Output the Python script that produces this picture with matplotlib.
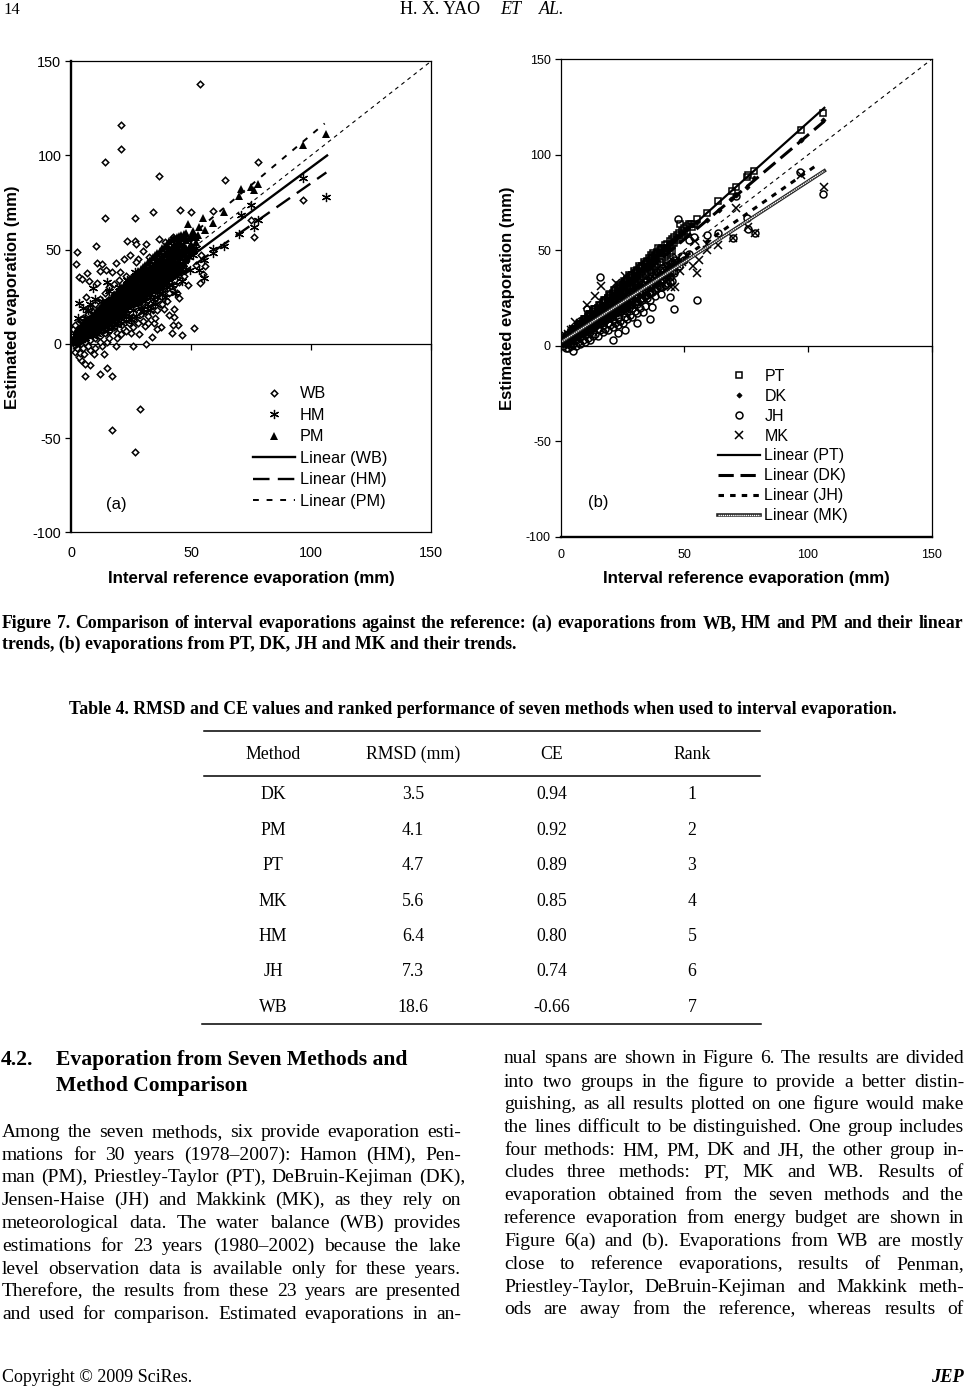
import matplotlib
matplotlib.use('Agg')
import matplotlib.pyplot as plt
from matplotlib.legend_handler import HandlerTuple

W, H = 967, 1386

SANS = 'Liberation Sans'
SERIF = 'Liberation Serif'

TICKS_X = [0, 50, 100, 150]
TICKS_Y = [-100, -50, 0, 50, 100, 150]

# panel (a)
WB_PTS = [
    (53.6, 138), (21, 116), (21, 103.7), (14, 96.4), (36.8, 89.3), (78, 96.4), (64, 86.9), (96.6, 76.2),
    (76.2, 56.6), (75.2, 66), (14, 66.7), (26.5, 66.7), (34, 70.2), (45.4, 71), (50, 70.2), (59.2, 70.6),
    (10.3, 51.8), (2.6, 48.8), (2.2, 42.3), (23.3, 54.8), (26.5, 54.7), (27, 53), (31.2, 53.2), (29.8, 49.5),
    (36.5, 55.9), (39.3, 54.1), (42.6, 56.6), (6.5, 37.5), (3.2, 35.7), (4.4, 34.7), (7.4, 33.4), (10.7, 42.8),
    (13, 42.3), (12, 38.7), (14.4, 39.3), (18.6, 42.8), (21.9, 45.3), (24.7, 47), (28, 45.3), (27, 43.3),
    (32.6, 46), (17.2, 38.4), (20.5, 38), (11, 32.5), (6.4, 25), (26, -1), (31.2, 0), (46.2, 4.8), (51.3, 8.3),
    (42, 6), (44.7, 10), (42.3, 10), (41, 15.5), (42.9, 14.5), (42.9, 18.6), (38.7, 18.6), (44.8, 24.4),
    (44.1, 27), (48.6, 31), (53.7, 32.2), (55, 37), (56, 41.6), (37.5, 8.8), (35.7, 7.8), (34.5, 11.3),
    (33.6, 3.5), (28.4, 5.3), (30.7, 9.5), (18.6, -1), (28.9, -34.5), (17.2, -45.8), (26.5, -57.6), (6, -17.1),
    (17.2, -17.1), (12, -16), (14.8, -13), (7.9, -11.3), (6, -10.6), (4, -8.8), (3.2, -6.7), (1.8, -4.2),
    (3.7, -4.6), (5.5, -5.5), (9.7, -5.5), (13.7, -5.3), (1, 1), (1, 4), (1, 7), (2, -1), (2, 3), (2, 9),
    (3, 1), (3, 6), (3, 11), (4, 0), (4, 4), (4, 12), (5, 2), (5, 8), (5, 14), (6, 1), (6, 6), (6, 11), (7, 3),
    (7, 16), (8, 2), (8, 8), (8, 13), (8, 19), (9, 5), (9, 17), (10, 3), (10, 10), (10, 21), (11, 6), (11, 15),
    (12, 4), (12, 19), (12, 24), (13, 8), (13, 12), (14, 6), (14, 18), (14, 27), (15, 10), (15, 23), (16, 7),
    (16, 14), (16, 30), (17, 11), (17, 20), (18, 9), (18, 26), (18, 32), (19, 14), (19, 6), (20, 11), (20, 20),
    (20, 34), (21, 15), (21, 29), (22, 8), (22, 25), (23, 13), (23, 36), (24, 18), (24, 11), (24, 31), (25, 6),
    (25, 22), (26, 14), (26, 35), (27, 19), (27, 12), (28, 27), (28, 38), (29, 16), (30, 22), (30, 12), (30, 36),
    (31, 18), (32, 27), (32, 15), (33, 21), (33, 40), (34, 18), (34, 30), (35, 24), (35, 14), (36, 28), (37, 21),
    (37, 44), (38, 25), (39, 30), (40, 23), (40, 47), (41, 33), (42, 28), (43, 37), (44, 50), (46, 41), (47, 36),
    (48, 45), (50, 48), (52, 42), (54, 47), (0.5, 2), (0.5, 5), (0.7, 8), (1.5, 10), (2.5, -2), (5, -2), (8, -3),
    (7, -1), (10, -2), (13, -1), (15, 1), (16, 3), (12, 1), (19, 3), (21, 5), (23, 7), (26, 9), (28, 11), (32, 11),
    (36, 18), (38, 21), (41, 27), (43, 31), (45, 33), (47, 39),
]
HM_PTS = [
    (106.4, 78), (96.6, 88.3), (76.2, 62.3), (78, 66), (70, 58.4), (71, 68.5), (75.2, 73.8), (63.8, 52),
    (59.2, 48), (59.2, 50.2), (55.4, 34.8), (55.4, 44.6), (53.3, 39.3), (49.5, 39.3), (48.1, 40), (46.3, 33.6),
    (43.3, 26.9), (9, 29.5), (14.8, 33), (23.2, 34), (26.6, 38.4), (3.2, 21.6), (5, 19), (3, 13.6),
    (1, 2), (2, 1), (2, 4), (3, 3), (4, 2), (4, 6), (5, 4), (6, 3), (6, 8), (7, 5), (7, 10), (8, 6), (9, 4),
    (9, 9), (10, 7), (10, 12), (11, 9), (11, 5), (12, 8), (12, 13), (13, 10), (13, 16), (14, 9), (14, 13), (15, 7),
    (15, 12), (15, 17), (16, 11), (16, 20), (17, 9), (17, 14), (18, 12), (18, 18), (19, 10), (19, 16), (19, 23),
    (20, 14), (20, 18), (21, 11), (21, 19), (22, 15), (22, 22), (23, 12), (23, 18), (24, 15), (24, 21), (25, 13),
    (25, 26), (26, 18), (26, 23), (27, 15), (27, 22), (28, 21), (28, 30), (29, 19), (29, 25), (30, 17), (30, 28),
    (31, 23), (31, 33), (32, 20), (32, 30), (33, 25), (33, 18), (34, 24), (34, 35), (35, 28), (35, 21), (36, 32),
    (36, 25), (37, 29), (37, 37), (38, 27), (38, 41), (39, 33), (39, 25), (40, 37), (40, 30), (41, 43), (41, 35),
    (42, 31), (42, 46), (43, 40), (44, 36), (44, 48), (45, 42), (46, 38), (46, 50), (47, 44), (48, 49), (49, 46),
    (50, 50), (51, 47), (52, 51), (5, 11), (6, 14), (7, 18), (8, 21), (10, 24), (13, 23), (16, 28), (20, 30), (24, 33),
]
PM_PTS = [
    (1, 2), (1.5, 3.5), (2, 2.5), (2.5, 4.5), (3, 3), (3.5, 5.5), (4, 4), (4.5, 6.5), (5, 5), (5.5, 7.5), (6, 6),
    (6.5, 9), (7, 7.5), (7.5, 10), (8, 8.5), (8.5, 11), (9, 9.5), (9.5, 12.5), (10, 10.5), (10.5, 13.5), (11, 12),
    (11.5, 15), (12, 13), (12.5, 16), (13, 14), (13.5, 17), (14, 15.5), (14.5, 18.5), (15, 16), (15.5, 19.5),
    (16, 17.5), (16.5, 20.5), (17, 18.5), (17.5, 22), (18, 19.5), (18.5, 23), (19, 20.5), (19.5, 24), (20, 22),
    (20.5, 25), (21, 23), (21.5, 26.5), (22, 24), (22.5, 27.5), (23, 25), (23.5, 29), (24, 26.5), (24.5, 30),
    (25, 27.5), (25.5, 31), (26, 28.5), (26.5, 32), (27, 29.5), (27.5, 33), (28, 31), (28.5, 34.5), (29, 32),
    (29.5, 35.5), (30, 33), (30.5, 36.5), (31, 34), (31.5, 38), (32, 35.5), (32.5, 39), (33, 36), (33.5, 40),
    (34, 37.5), (34.5, 41), (35, 38.5), (35.5, 42.5), (36, 40), (36.5, 44), (37, 41), (37.5, 45), (38, 42),
    (38.5, 46), (39, 43.5), (39.5, 47.5), (40, 44.5), (40.5, 48.5), (41, 45.5), (41.5, 49), (42, 47), (42.5, 50),
    (43, 48), (43.5, 51.5), (44, 49), (45, 50.5), (46, 53), (47, 52.5), (48, 55), (49, 56), (50, 57), (51, 58),
    (52, 56.5), (48.6, 63.7), (53.3, 62.3), (55, 66.7), (56, 60.5), (59.2, 64), (63.8, 70), (70, 78.5), (71, 82.4),
    (75.2, 83.5), (76.2, 81.5), (78, 85), (96.6, 105.4), (106.4, 111.6),
    # the solid part of the cloud, low and high edge
    (2, 1.2), (2, 7), (3, 2), (3, 8), (4, 3), (4, 9.5), (5, 3.5), (5, 10.5), (6, 4.5), (6, 12), (7, 5.5), (7, 13),
    (8, 6.5), (8, 14), (9, 7), (9, 15.5), (10, 8), (10, 16.5), (11, 9), (11, 18), (12, 9.5), (12, 19), (13, 10.5),
    (13, 20.5), (14, 11.5), (14, 21.5), (15, 12.5), (15, 23), (16, 13), (16, 24), (17, 14), (17, 25), (18, 15),
    (18, 26.5), (19, 15.5), (19, 27.5), (20, 16.5), (20, 29), (21, 17.5), (21, 30), (22, 18), (22, 31), (23, 19),
    (23, 32.5), (24, 20), (24, 33.5), (25, 21), (25, 35), (26, 21.5), (26, 36), (27, 22.5), (27, 37), (28, 23.5),
    (28, 38.5), (29, 24), (29, 40), (30, 25), (30, 41), (31, 26), (31, 42), (32, 27), (32, 43.5), (33, 27.5),
    (33, 44.5), (34, 28.5), (34, 46), (35, 29.5), (35, 47), (36, 30), (36, 48.5), (37, 31), (37, 49.5), (38, 32),
    (38, 51), (39, 33), (39, 52), (40, 33.5), (40, 53), (41, 35), (41, 54.5), (42, 36), (42, 55.5), (43, 37), (43, 56),
    (44, 38), (44, 57), (45, 40), (45, 57.5), (46, 41), (46, 58), (47, 43), (47, 58.5), (48, 45), (48, 59), (49, 47),
    (50, 49), (51, 51), (51, 60), (52, 54), (53, 58),
    # and its middle
    (5, 5), (6, 6.5), (7, 7), (8, 7.5), (9, 8.5), (10, 9.5), (11, 10.5), (12, 11), (13, 12.5), (14, 13.5), (15, 14.5),
    (16, 15), (17, 16.5), (18, 17.5), (19, 18.5), (20, 19), (21, 20), (22, 21.5), (23, 22), (24, 23), (25, 24),
    (26, 25.5), (27, 26), (28, 27), (29, 28), (30, 29.5), (31, 30), (32, 31), (33, 32), (34, 33), (35, 34), (36, 35),
    (37, 36), (38, 37), (39, 37.5), (40, 39), (41, 40), (42, 41), (43, 42), (44, 43), (45, 44), (46, 46), (47, 47.5),
    (48, 50), (49, 51), (50, 53),
    (3, 3), (4, 3.5), (5, 4.5), (6, 5.5), (7, 6.5), (8, 7.5), (9, 8), (10, 9), (11, 10), (12, 11), (13, 12), (14, 12.5),
    (15, 13.5), (16, 14.5), (17, 15.5), (18, 16.5), (19, 17.5), (20, 18), (21, 19), (22, 20), (23, 21), (24, 22), (25, 23),
    (26, 23.5), (27, 24.5), (28, 25.5), (29, 26.5), (30, 27.5), (31, 28), (32, 29), (33, 30), (34, 31), (35, 32), (36, 33),
    (37, 33.5), (38, 34.5), (39, 35.5), (40, 36.5), (41, 37.5), (42, 38.5), (43, 39), (44, 40), (45, 41), (46, 42), (47, 43),
    (3, 4), (4, 5), (5, 6), (6, 7), (7, 8.5), (8, 9), (9, 10), (10, 11.5), (11, 12.5), (12, 13.5), (13, 14.5), (14, 15.5),
    (15, 16.5), (16, 17.5), (17, 18.5), (18, 19.5), (19, 20.5), (20, 21.5), (21, 22.5), (22, 23.5), (23, 25), (24, 26),
    (25, 27), (26, 28), (27, 29), (28, 30), (29, 31), (30, 32), (31, 33), (32, 34), (33, 35), (34, 36), (35, 37), (36, 38),
    (37, 39), (38, 40), (39, 41), (40, 42), (41, 43), (42, 44), (43, 45), (44, 46.5), (45, 47.5), (46, 48.5), (47, 49.5), (48, 51),
    (3, 6.5), (4, 7.5), (5, 9), (6, 10), (7, 11), (8, 12), (9, 13.5), (10, 14.5), (11, 15.5), (12, 17), (13, 18), (14, 19),
    (15, 20.5), (16, 21.5), (17, 22.5), (18, 24), (19, 25), (20, 26), (21, 27), (22, 28.5), (23, 29.5), (24, 30.5), (25, 32),
    (26, 33), (27, 34), (28, 35), (29, 36.5), (30, 37.5), (31, 38.5), (32, 40), (33, 41), (34, 42), (35, 43), (36, 44.5),
    (37, 45.5), (38, 46.5), (39, 48), (40, 49), (41, 50), (42, 51.5), (43, 52.5), (44, 53.5), (45, 55), (46, 56), (47, 57),
]

# panel (b)
PT_PTS = [
    (0.5, 1.5), (1, 1), (1, 3), (2, 2), (2, 4), (3, 3), (3, 5.5), (4, 4.5), (4, 6.5), (5, 5.5), (5, 8), (6, 7), (6, 9),
    (7, 8), (7, 10.5), (8, 9), (8, 11.5), (9, 10.5), (9, 13), (10, 11.5), (10, 14), (11, 13), (11, 15.5), (12, 14),
    (12, 16.5), (13, 15), (13, 18), (14, 16.5), (14, 19), (15, 17.5), (15, 20), (16, 19), (16, 21.5), (17, 20), (17, 23),
    (18, 21), (18, 24), (19, 22.5), (19, 25), (20, 23.5), (20, 26.5), (21, 24.5), (21, 27.5), (22, 26), (22, 29), (23, 27),
    (23, 30), (24, 28), (24, 31.5), (25, 29.5), (25, 32.5), (26, 30.5), (26, 33.5), (27, 31.5), (27, 35), (28, 33), (28, 36),
    (29, 34), (29, 37), (30, 35), (30, 38), (31, 36.5), (31, 39.5), (32, 37.5), (32, 40.5), (33, 38.5), (33, 41.5), (34, 40),
    (34, 43), (35, 41), (35, 44.5), (36, 42), (36.4, 47.6), (37, 43.5), (37, 46), (38, 44.5), (38, 47), (39, 46), (39, 48.5),
    (40.4, 50.5), (41, 48.5), (42, 49.5), (43, 51), (44, 52), (45, 53), (46, 54), (47, 55.5), (48.2, 63.6), (48, 56.5),
    (49, 58), (50, 59), (51, 60), (52.8, 63.6), (53, 62), (54, 64), (55.3, 66.2), (59.2, 69.7), (63.7, 75.6), (69.4, 81),
    (71, 83), (75.5, 88.2), (75.9, 89.4), (78.3, 91.6), (97, 113.2), (106.2, 122),
    (5.5, 9), (7.5, 11.5), (9.5, 14), (11.5, 16.5), (13.5, 19), (15.5, 21.5), (17.5, 24), (19.5, 27), (21.5, 29),
    (23.5, 32), (25.5, 34), (27.5, 37), (29.5, 39), (31.5, 42), (33.5, 44), (35.5, 46), (37.5, 48.5), (39.5, 51),
    (2, 3), (3, 4), (4, 5.5), (5, 6.5), (6, 7.5), (7, 8.5), (8, 9.5), (9, 11), (10, 12), (11, 13), (12, 14), (13, 15), (14, 16),
    (15, 17), (16, 18.5), (17, 19.5), (18, 20.5), (19, 21.5), (20, 22.5), (21, 23.5), (22, 25), (23, 26), (24, 27), (25, 28),
    (26, 29), (27, 30), (28, 31), (29, 32.5), (30, 33.5), (31, 34.5), (32, 35.5), (33, 36.5), (34, 37.5), (35, 39), (36, 40),
    (37, 41), (38, 42), (39, 43), (40, 44), (41, 45.5), (42, 46.5), (43, 47.5), (44, 48.5), (45, 49.5),
    (2, 4.5), (3, 5.5), (4, 7), (5, 8), (6, 9), (7, 10.5), (8, 11.5), (9, 13), (10, 14), (11, 15), (12, 16.5), (13, 17.5), (14, 19),
    (15, 20), (16, 21), (17, 22.5), (18, 23.5), (19, 25), (20, 26), (21, 27), (22, 28.5), (23, 29.5), (24, 31), (25, 32), (26, 33),
    (27, 34.5), (28, 35.5), (29, 37), (30, 38), (31, 39), (32, 40.5), (33, 41.5), (34, 43), (35, 44), (36, 45), (37, 46.5),
    (38, 47.5), (39, 49), (40, 50), (41, 51), (42, 52.5), (43, 53.5), (44, 55), (45, 56), (46, 57), (47, 58), (48, 59), (49, 60),
    (50, 61.5), (51, 62.5), (52, 63.5),
]
DK_PTS = [
    (1, 2), (2, 3), (3, 4.5), (4, 5.5), (5, 6.5), (6, 8), (7, 9), (8, 10), (9, 11.5), (10, 12.5), (11, 14), (12, 15), (13, 16),
    (14, 17.5), (15, 18.5), (16, 20), (17, 21), (18, 22.5), (19, 23.5), (20, 25), (21, 26), (22, 27), (23, 28.5), (24, 29.5),
    (25, 31), (26, 32), (27, 33), (28, 34.5), (29, 35.5), (30, 36.5), (31, 38), (32, 39), (33, 40), (34, 41.5), (35, 42.5),
    (36, 44), (37, 45), (38, 46), (39, 47.5), (40, 48.5), (41, 50), (42, 51), (43, 52.5), (44, 53.5), (45, 55), (47, 57),
    (49, 59), (51, 61), (53, 63), (55, 65), (59, 66), (64, 71), (69, 77), (71, 79), (75.5, 83), (78, 88), (97, 108), (106.2, 118),
]
JH_PTS = [
    (106.2, 79.4), (96.8, 91), (75.3, 66.9), (70.8, 78.2), (47.3, 66.4), (59.2, 58.2), (63.6, 58.9), (69.7, 56.3), (75.9, 61),
    (78.6, 59.2), (55, 24.2), (46, 19.5), (44.2, 25.4), (36, 13.8), (16, 35.9), (10.6, 19.2), (21, 3.1), (31, 11.8), (33.3, 17.9),
    (36.8, 20.2), (40.4, 27.2), (26, 8), (23, 6.6), (5.1, -2.6), (53.9, 57), (51.9, 55.4),
    (1, 0), (1, 2), (2, -1), (2, 2), (3, -1), (3, 1), (3, 4), (4, 0), (4, 3), (5, 1), (5, 4), (6, 0), (6, 3), (7, 2), (7, 6), (8, 1),
    (8, 5), (9, 3), (9, 7), (10, 2), (10, 6), (11, 4), (11, 9), (12, 3), (12, 7), (13, 5), (13, 10), (14, 6), (14, 12), (15, 5),
    (15, 9), (16, 8), (16, 13), (17, 7), (17, 11), (18, 9), (18, 15), (19, 8), (19, 12), (20, 11), (20, 16), (21, 10), (21, 14),
    (22, 12), (22, 18), (23, 11), (23, 15), (24, 13), (24, 19), (25, 12), (25, 17), (26, 15), (26, 21), (27, 14), (27, 18),
    (28, 16), (28, 23), (29, 15), (29, 20), (30, 18), (30, 25), (31, 17), (31, 22), (32, 20), (32, 27), (33, 24), (34, 21), (34, 29),
    (35, 25), (36, 24), (36, 31), (37, 28), (38, 26), (38, 33), (39, 30), (40, 31), (40, 37), (41, 34), (42, 32), (43, 38),
    (44, 36), (45, 41), (46, 38), (47, 44), (48, 42), (49, 47), (50, 45), (52, 48),
    # dense band along the trend
    (2, 1.5), (3, 2), (4, 3), (5, 4), (6, 4.5), (7, 5.5), (8, 6), (9, 7), (10, 7.5), (11, 8.5), (12, 9), (13, 10), (14, 10.5),
    (15, 11.5), (16, 12), (17, 13), (18, 13.5), (19, 14.5), (20, 15), (21, 16), (22, 17), (23, 17.5), (24, 18), (25, 19), (26, 20),
    (27, 20.5), (28, 21.5), (29, 22), (30, 23), (31, 23.5), (32, 24.5), (33, 25), (34, 26), (35, 26.5), (36, 27.5), (37, 28),
    (38, 29), (39, 30), (40, 30.5), (41, 31), (42, 32), (43, 33), (44, 33.5), (45, 34),
    (2, 2), (3, 2.5), (4, 3.5), (5, 4.5), (6, 5), (7, 6), (8, 7), (9, 8), (10, 8.5), (11, 9.5), (12, 10.5), (13, 11), (14, 12),
    (15, 13), (16, 14), (17, 14.5), (18, 15.5), (19, 16.5), (20, 17), (21, 18), (22, 19), (23, 20), (24, 20.5), (25, 21.5),
    (26, 22.5), (27, 23), (28, 24), (29, 25), (30, 26), (31, 26.5), (32, 27.5), (33, 28.5), (34, 29), (35, 30), (36, 31), (37, 32),
    (38, 32.5), (39, 33.5), (40, 34.5), (41, 35), (42, 36), (43, 37), (44, 38), (45, 38.5),
    (2, 2.5), (3, 3.5), (4, 4.5), (5, 5.5), (6, 6.5), (7, 7.5), (8, 8.5), (9, 9.5), (10, 10), (11, 11), (12, 12), (13, 13), (14, 14),
    (15, 15), (16, 16), (17, 17), (18, 18), (19, 19), (20, 20), (21, 21), (22, 22), (23, 23), (24, 24), (25, 25), (26, 25.5),
    (27, 26.5), (28, 27.5), (29, 28.5), (30, 29.5), (31, 30.5), (32, 31.5), (33, 32.5), (34, 33.5), (35, 34.5), (36, 35.5),
    (37, 36.5), (38, 37.5), (39, 38.5), (40, 39.5), (41, 40.5), (42, 41.5), (43, 42.5), (44, 43), (45, 44), (46, 45),
]
MK_PTS = [
    (106.6, 83.1), (97, 89.5), (71, 72.3), (69.7, 56.3), (75.6, 62), (78.6, 59.2), (63.8, 52.6), (59.3, 53.3), (59.3, 50), (55.9, 45),
    (55.2, 38), (53.4, 41.8), (54.3, 55), (46.4, 31), (44.5, 31), (16.3, 31.4), (13.9, 25.8), (10.8, 21.4), (5.9, 12.2), (22.4, 33),
    (26, 36.6), (48.2, 38.9), (50.9, 47.6),
    (1, 1), (1, 4), (2, 2), (2, 5), (3, 3), (3, 6), (4, 4), (4, 8), (5, 5), (5, 9), (6, 4), (6, 7), (7, 6), (7, 10), (8, 7), (8, 12),
    (9, 6), (9, 10), (10, 9), (10, 13), (11, 8), (11, 12), (12, 10), (12, 15), (13, 9), (13, 13), (14, 11), (14, 17), (15, 11),
    (15, 15), (16, 13), (16, 19), (17, 12), (17, 16), (18, 14), (18, 20), (19, 14), (19, 18), (20, 16), (20, 21), (21, 15),
    (21, 19), (22, 17), (22, 23), (23, 17), (23, 21), (24, 19), (24, 25), (25, 19), (25, 23), (26, 20), (26, 26), (27, 20),
    (27, 24), (28, 22), (28, 28), (29, 22), (29, 26), (30, 24), (30, 30), (31, 24), (31, 28), (32, 26), (32, 32), (33, 26),
    (33, 30), (34, 27), (34, 33), (35, 28), (35, 32), (36, 29), (36, 35), (37, 30), (37, 34), (38, 32), (38, 38), (39, 33),
    (40, 34), (40, 39), (41, 35), (42, 37), (43, 38), (44, 39), (45, 42), (46, 41), (47, 43), (49, 44),
    # dense band along the trend
    (2.5, 4), (4, 6), (5.5, 7.5), (7, 8), (8.5, 9.5), (10, 11), (11.5, 12.5), (13, 15), (14.5, 15), (16, 16), (17.5, 18),
    (19, 20), (20.5, 20), (22, 21), (23.5, 23), (25, 25), (26.5, 24), (28, 25), (29.5, 28), (31, 30), (32.5, 29), (34, 30),
    (35.5, 34), (37, 36), (38.5, 35), (40, 37), (41.5, 38), (43, 41), (44.5, 41), (46, 44), (47.5, 46),
]

# trend lines, ends of each one
TREND_A = {
    'WB': ([1, 106.7], [0.1, 100]),
    'HM': ([1, 106.4], [-3, 91]),
    'PM': ([1, 105.7], [5.2, 117]),
}
TREND_B = {
    'PT': ([0.5, 106.6], [1.5, 124.6]),
    'DK': ([0.5, 106.6], [1.6, 117.6]),
    'JH': ([0.5, 104], [1.8, 95]),
    'MK': ([0.5, 106.6], [2.2, 91.6]),
}

TABLE_HEAD = ['Method', 'RMSD (mm)', 'CE', 'Rank']
TABLE_METHOD = ['DK', 'PM', 'PT', 'MK', 'HM', 'JH', 'WB']
TABLE_RMSD = ['3.5', '4.1', '4.7', '5.6', '6.4', '7.3', '18.6']
TABLE_CE = ['0.94', '0.92', '0.89', '0.85', '0.80', '0.74', '-0.66']
TABLE_RANK = ['1', '2', '3', '4', '5', '6', '7']

LEFT_COL = [
    'Among the seven methods, six provide evaporation esti-',
    'mations for 30 years (1978–2007): Hamon (HM), Pen-',
    'man (PM), Priestley-Taylor (PT), DeBruin-Kejiman (DK),',
    'Jensen-Haise (JH) and Makkink (MK), as they rely on',
    'meteorological data. The water balance (WB) provides',
    'estimations for 23 years (1980–2002) because the lake',
    'level observation data is available only for these years.',
    'Therefore, the results from these 23 years are presented',
    'and used for comparison. Estimated evaporations in an-',
]
RIGHT_COL = [
    'nual spans are shown in Figure 6. The results are divided',
    'into two groups in the figure to provide a better distin-',
    'guishing, as all results plotted on one figure would make',
    'the lines difficult to be distinguished. One group includes',
    'four methods: HM, PM, DK and JH, the other group in-',
    'cludes three methods: PT, MK and WB. Results of',
    'evaporation obtained from the seven methods and the',
    'reference evaporation from energy budget are shown in',
    'Figure 6(a) and (b). Evaporations from WB are mostly',
    'close to reference evaporations, results of Penman,',
    'Priestley-Taylor, DeBruin-Kejiman and Makkink meth-',
    'ods are away from the reference, whereas results of',
]
LEFT_BASE = [1137, 1160, 1182, 1205, 1228, 1251, 1274, 1296, 1319]
RIGHT_BASE = [1063, 1087, 1109, 1132, 1155, 1177, 1200, 1223, 1246, 1269, 1292, 1314]

plt.rcParams['font.family'] = SANS
plt.rcParams['axes.unicode_minus'] = False

fig = plt.figure(figsize=(W / 100, H / 100), dpi=100, facecolor='white')


def px_axes(left, top, right, bottom):
    return fig.add_axes([left / W, 1 - bottom / H, (right - left) / W, (bottom - top) / H])


def ptext(x, y, s, **kw):
    kw.setdefault('family', SERIF)
    kw.setdefault('va', 'baseline')
    return fig.text(x / W, 1 - y / H, s, **kw)


def justified(line, left, right, y, size, **kw):
    # spread the words over the column, the way the page was set
    renderer = fig.canvas.get_renderer()
    words = line.split(' ')
    sizes = []
    for w in words:
        t = ptext(0, 0, w, fontsize=size, **kw)
        sizes.append(t.get_window_extent(renderer).width)
        t.remove()
    gap = (right - left - sum(sizes)) / max(len(words) - 1, 1)
    x = left
    for w, wd in zip(words, sizes):
        ptext(x, y, w, fontsize=size, **kw)
        x += wd + gap


def scatter(ax, pts, label, **kw):
    ax.plot([p[0] for p in pts], [p[1] for p in pts], ls='none', color='black', label=label, **kw)


def frame(ax, thick, tick_size, pad):
    ax.set_xlim(0, 150)
    ax.set_ylim(-100, 150)
    for name, sp in ax.spines.items():
        sp.set_linewidth(1.7 if name == thick else 0.9)
    ax.set_xticks(TICKS_X)
    ax.set_yticks(TICKS_Y)
    ax.tick_params(axis='x', length=0, labelsize=tick_size, pad=pad)
    ax.tick_params(axis='y', length=4, width=0.9, labelsize=tick_size, pad=3)
    # the x axis itself crosses at zero, the labels stay at the bottom
    sec = ax.secondary_xaxis(0.4)
    sec.set_xticks(TICKS_X)
    sec.set_xticklabels([])
    sec.tick_params(length=4, width=0.9)
    sec.spines['bottom'].set_linewidth(0.9)
    ax.plot([0, 150], [0, 150], color='black', lw=0.8, dashes=(3.5, 3.5), zorder=2)


# panel (a)
ax = px_axes(71, 61.3, 431, 532.3)
frame(ax, 'left', 10.4, 10)
scatter(ax, WB_PTS, 'WB', marker='D', ms=3.3, mfc='white', mew=1.1)
scatter(ax, HM_PTS, 'HM', marker=(6, 2, 0), ms=6.6, mew=0.9)
scatter(ax, PM_PTS, 'PM', marker='^', ms=6.4, mew=0)
ax.plot(*TREND_A['WB'], color='black', lw=1.7, label='Linear (WB)')
ax.plot(*TREND_A['HM'], color='black', lw=1.7, dashes=(7, 3.5), label='Linear (HM)')
ax.plot(*TREND_A['PM'], color='black', lw=1.4, dashes=(3, 4), label='Linear (PM)')
ax.legend(loc='upper left', bbox_to_anchor=(0.505, 0.31), frameon=False, fontsize=11.7, borderpad=0,
          borderaxespad=0, handlelength=2.6, handletextpad=0.3, labelspacing=0.4, numpoints=1)
ax.text(35 / 360, 27.5 / 471, '(a)', transform=ax.transAxes, fontsize=12, ha='left', va='center')
ax.set_xlabel('Interval reference evaporation (mm)', fontsize=12.2, fontweight='bold', labelpad=7.5)
ax.set_ylabel('Estimated evaporation (mm)', fontsize=12, fontweight='bold', labelpad=9)

# panel (b)
ax = px_axes(560.7, 59.3, 931.7, 536.7)
frame(ax, 'bottom', 9, 9)
scatter(ax, PT_PTS, 'PT', marker='s', ms=4.4, mfc='none', mew=1.1)
scatter(ax, DK_PTS, 'DK', marker='D', ms=2.6, mew=0.6)
scatter(ax, JH_PTS, 'JH', marker='o', ms=5, mfc='none', mew=1.1)
scatter(ax, MK_PTS, 'MK', marker='x', ms=6.4, mew=1.1)
ax.plot(*TREND_B['PT'], color='black', lw=1.6, label='Linear (PT)')
ax.plot(*TREND_B['DK'], color='black', lw=2.2, dashes=(5, 2.2), label='Linear (DK)')
ax.plot(*TREND_B['JH'], color='black', lw=2.2, dashes=(1.8, 2), label='Linear (JH)')
mk_dark, = ax.plot(*TREND_B['MK'], color='#222222', lw=2.6, label='Linear (MK)')
mk_white, = ax.plot(*TREND_B['MK'], color='white', lw=1.0, dashes=(1, 0.5))
handles, labels = ax.get_legend_handles_labels()
handles[-1] = (mk_dark, mk_white)
ax.legend(handles, labels, handler_map={tuple: HandlerTuple(ndivide=1, pad=0)}, loc='upper left',
          bbox_to_anchor=(0.424, 0.352), frameon=False, fontsize=11.5, borderpad=0,
          borderaxespad=0, handlelength=2.6, handletextpad=0.3, labelspacing=0.31, numpoints=1)
ax.text(27 / 371, 34 / 477.4, '(b)', transform=ax.transAxes, fontsize=12, ha='left', va='center')
ax.set_xlabel('Interval reference evaporation (mm)', fontsize=12.2, fontweight='bold', labelpad=6.7)
ax.set_ylabel('Estimated evaporation (mm)', fontsize=12, fontweight='bold', labelpad=8)

# page header
ptext(3, 14, '14', fontsize=12)
ptext(400, 14, 'H. X. YAO', fontsize=13)
ptext(500, 14, 'ET', fontsize=13, style='italic')
ptext(539, 14, 'AL.', fontsize=13, style='italic')

# caption
justified('Figure 7. Comparison of interval evaporations against the reference: (a) evaporations from WB, HM and PM and their linear',
          2, 963, 628, 12.8, fontweight='bold')
ptext(2, 649, 'trends, (b) evaporations from PT, DK, JH and MK and their trends.', fontsize=12.8, fontweight='bold')

# table
ptext(482.5, 714, 'Table 4. RMSD and CE values and ranked performance of seven methods when used to interval evaporation.',
      fontsize=12.8, fontweight='bold', ha='center')
for y, x0, x1 in [(731, 204, 760), (776, 204, 760), (1024, 202, 761)]:
    fig.add_artist(plt.Line2D([x0 / W, x1 / W], [1 - y / H, 1 - y / H], color='black', lw=1.1))
col_x = [273, 413, 552, 692]
for x, s in zip(col_x, TABLE_HEAD):
    ptext(x, 759, s, fontsize=12.8, ha='center')
row_y = [799, 835, 870, 906, 941, 976, 1012]
for x, col in zip(col_x, [TABLE_METHOD, TABLE_RMSD, TABLE_CE, TABLE_RANK]):
    for y, s in zip(row_y, col):
        ptext(x, y, s, fontsize=12.8, ha='center')

# section heading and the two text columns
ptext(1, 1065, '4.2.', fontsize=15.6, fontweight='bold')
ptext(56, 1065, 'Evaporation from Seven Methods and', fontsize=15.6, fontweight='bold')
ptext(56, 1091, 'Method Comparison', fontsize=15.6, fontweight='bold')
for i, (s, y) in enumerate(zip(LEFT_COL, LEFT_BASE)):
    justified(s, 2, 465 if i == 2 else 461, y, 14)
for s, y in zip(RIGHT_COL, RIGHT_BASE):
    justified(s, 504, 964, y, 14)

# footer
ptext(2, 1382, 'Copyright © 2009 SciRes.', fontsize=13)
ptext(964, 1382, 'JEP', fontsize=13.2, fontweight='bold', style='italic', ha='right')

fig.savefig('out.png', dpi=100, facecolor='white')
